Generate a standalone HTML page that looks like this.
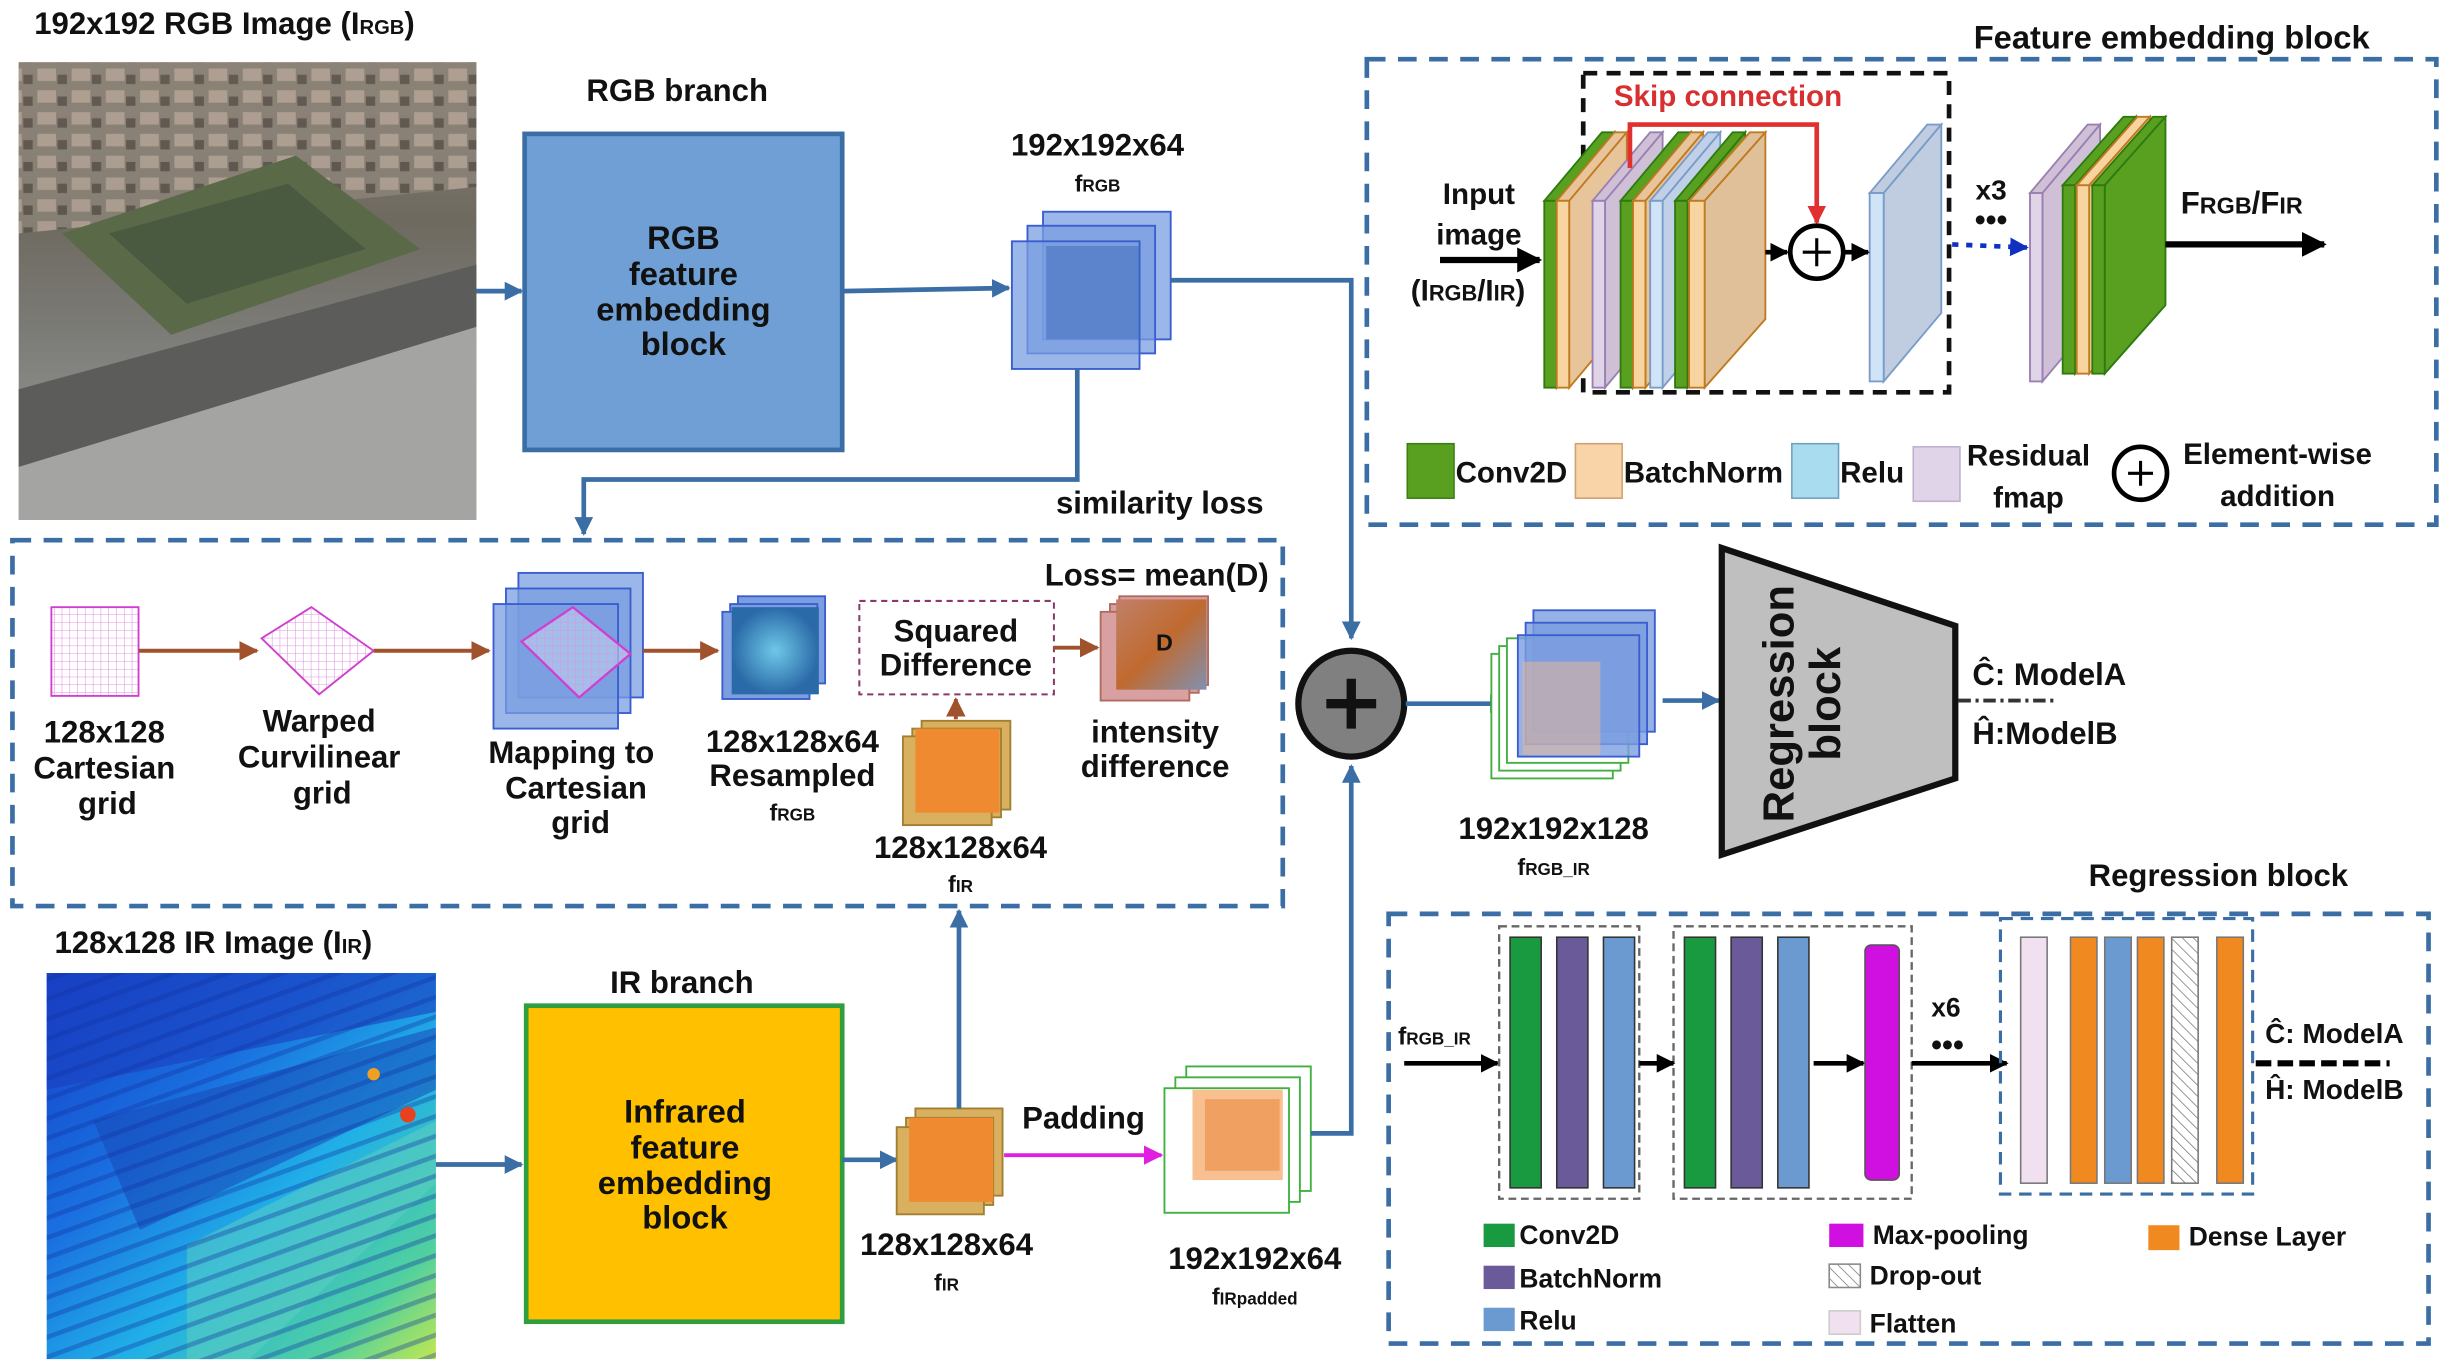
<!DOCTYPE html>
<html><head><meta charset="utf-8"><style>
html,body{margin:0;padding:0;background:#fff;}
svg{display:block;}
text{font-family:"Liberation Sans",sans-serif;font-weight:bold;fill:#111;}
</style></head><body>
<svg width="2441" height="1363" viewBox="0 0 1568 875.5" preserveAspectRatio="none" xmlns="http://www.w3.org/2000/svg">
<defs>
<marker id="ab" viewBox="0 0 10 10" refX="9" refY="5" markerWidth="4" markerHeight="4" orient="auto"><path d="M0,0L10,5L0,10z" fill="#3a6ea5"/></marker>
<marker id="ak" viewBox="0 0 10 10" refX="9" refY="5" markerWidth="4" markerHeight="4" orient="auto"><path d="M0,0L10,5L0,10z" fill="#000"/></marker>
<marker id="abr" viewBox="0 0 10 10" refX="9" refY="5" markerWidth="5" markerHeight="5" orient="auto"><path d="M0,0L10,5L0,10z" fill="#a0522d"/></marker>
<marker id="am" viewBox="0 0 10 10" refX="9" refY="5" markerWidth="5" markerHeight="5" orient="auto"><path d="M0,0L10,5L0,10z" fill="#e020e0"/></marker>
<marker id="ar" viewBox="0 0 10 10" refX="9" refY="5" markerWidth="4" markerHeight="4" orient="auto"><path d="M0,0L10,5L0,10z" fill="#e03030"/></marker>
<marker id="adb" viewBox="0 0 10 10" refX="9" refY="5" markerWidth="4" markerHeight="4" orient="auto"><path d="M0,0L10,5L0,10z" fill="#1030c0"/></marker>
<linearGradient id="city" x1="0" y1="0" x2="0" y2="1"><stop offset="0" stop-color="#8a7e72"/><stop offset="0.35" stop-color="#6e6a60"/><stop offset="0.6" stop-color="#7c7c78"/><stop offset="1" stop-color="#a0a09c"/></linearGradient>
<linearGradient id="ir" x1="0" y1="0" x2="1" y2="1"><stop offset="0" stop-color="#1440c8"/><stop offset="0.35" stop-color="#1a70e0"/><stop offset="0.6" stop-color="#20b0e8"/><stop offset="0.85" stop-color="#50d0a0"/><stop offset="1" stop-color="#c0e850"/></linearGradient>
<radialGradient id="teal"><stop offset="0" stop-color="#6ec8e8"/><stop offset="1" stop-color="#2a6aa8"/></radialGradient>
<linearGradient id="dg" x1="0" y1="0" x2="1" y2="1"><stop offset="0" stop-color="#c08068"/><stop offset="0.5" stop-color="#c06a30"/><stop offset="1" stop-color="#8090b0"/></linearGradient>
<pattern id="grid" width="5" height="5" patternUnits="userSpaceOnUse"><path d="M5,0V5H0" fill="none" stroke="#e090e0" stroke-width="0.7"/></pattern>
<pattern id="hatch" width="5" height="5" patternUnits="userSpaceOnUse" patternTransform="rotate(-45)"><line x1="0" y1="0" x2="0" y2="5" stroke="#777" stroke-width="1"/></pattern>
<pattern id="bld" width="22" height="14" patternUnits="userSpaceOnUse"><rect width="22" height="14" fill="#8c8478"/><rect x="2" y="2" width="12" height="8" fill="#b8a89a"/><rect x="15" y="6" width="6" height="6" fill="#5a524a"/></pattern>
<pattern id="irp" width="18" height="12" patternUnits="userSpaceOnUse" patternTransform="rotate(-20)"><rect width="18" height="12" fill="none"/><rect x="0" y="0" width="18" height="3" fill="#1030a0" opacity="0.35"/></pattern>
</defs>

<!-- RGB image -->
<text x="22" y="22" font-size="20">192x192 RGB Image (I<tspan font-size="13">RGB</tspan>)</text>
<rect x="12" y="40" width="294" height="294" fill="url(#city)"/>
<polygon points="12,40 306,40 306,120 12,150" fill="url(#bld)" opacity="0.8"/>
<polygon points="40,150 190,100 270,160 110,215" fill="#5a6a48"/>
<polygon points="70,150 185,118 235,160 120,195" fill="#4a5a40"/>
<polygon points="12,250 306,170 306,210 12,300" fill="#5c5c5a"/>
<polygon points="12,300 306,210 306,334 12,334" fill="#a4a4a2"/>
<line x1="306" y1="187" x2="335" y2="187" stroke="#3a6ea5" stroke-width="3" marker-end="url(#ab)"/>

<text x="435" y="65" font-size="20" text-anchor="middle">RGB branch</text>
<rect x="337" y="86" width="204" height="203" fill="#6f9fd4" stroke="#3a6ea5" stroke-width="3"/>
<text font-size="21" text-anchor="middle"><tspan x="439" y="160">RGB</tspan><tspan x="439" y="183">feature</tspan><tspan x="439" y="206">embedding</tspan><tspan x="439" y="228">block</tspan></text>
<line x1="541" y1="187" x2="648" y2="185" stroke="#3a6ea5" stroke-width="3" marker-end="url(#ab)"/>

<g stroke="#3a5ed0" stroke-width="1.2" fill="#7a9ee0" fill-opacity="0.75">
<rect x="670" y="136" width="82" height="82"/><rect x="660" y="145" width="82" height="82"/><rect x="650" y="155" width="82" height="82"/>
</g>
<rect x="672" y="158" width="60" height="60" fill="#3a6ab8" opacity="0.5"/>
<text x="705" y="100" font-size="20" text-anchor="middle">192x192x64</text>
<text x="705" y="123" font-size="15" text-anchor="middle">f<tspan font-size="11">RGB</tspan></text>

<polyline points="752,180 868,180 868,410" fill="none" stroke="#3a6ea5" stroke-width="3" marker-end="url(#ab)"/>
<polyline points="692,237 692,308 375,308 375,343" fill="none" stroke="#3a6ea5" stroke-width="3" marker-end="url(#ab)"/>
<text x="745" y="330" font-size="20" text-anchor="middle">similarity loss</text>

<rect x="8" y="347" width="816" height="235" fill="none" stroke="#3a6ea5" stroke-width="3" stroke-dasharray="12,8"/>
<text x="815" y="376" font-size="20" text-anchor="end">Loss= mean(D)</text>

<rect x="33" y="390" width="56" height="57" fill="url(#grid)" stroke="#d040d0" stroke-width="1.2"/>
<line x1="89" y1="418" x2="165" y2="418" stroke="#a0522d" stroke-width="2.5" marker-end="url(#abr)"/>
<polygon points="168,410 200,390 240,418 205,446" fill="url(#grid)" stroke="#d040d0" stroke-width="1.2"/>
<line x1="240" y1="418" x2="314" y2="418" stroke="#a0522d" stroke-width="2.5" marker-end="url(#abr)"/>
<text font-size="20" text-anchor="middle"><tspan x="67" y="477">128x128</tspan><tspan x="67" y="500">Cartesian</tspan><tspan x="69" y="523">grid</tspan></text>
<text font-size="20" text-anchor="middle"><tspan x="205" y="470">Warped</tspan><tspan x="205" y="493">Curvilinear</tspan><tspan x="207" y="516">grid</tspan></text>

<g stroke="#3a5ed0" stroke-width="1.2" fill="#7a9ee0" fill-opacity="0.75">
<rect x="333" y="368" width="80" height="80"/><rect x="325" y="378" width="80" height="80"/><rect x="317" y="388" width="80" height="80"/>
</g>
<polygon points="335,412 368,390 405,420 372,448" fill="#c0d4f0" opacity="0.6"/>
<polygon points="335,412 368,390 405,420 372,448" fill="url(#grid)" stroke="#d040d0" stroke-width="1.5"/>
<line x1="413" y1="418" x2="461" y2="418" stroke="#a0522d" stroke-width="2.5" marker-end="url(#abr)"/>
<text font-size="20" text-anchor="middle"><tspan x="367" y="490">Mapping to</tspan><tspan x="370" y="513">Cartesian</tspan><tspan x="373" y="535">grid</tspan></text>

<g stroke="#3a5ed0" stroke-width="1.2" fill="#7a9ee0">
<rect x="474" y="383" width="56" height="56"/><rect x="469" y="388" width="56" height="56"/><rect x="464" y="393" width="56" height="56"/>
</g>
<rect x="470" y="390" width="56" height="56" fill="url(#teal)"/>
<text font-size="20" text-anchor="middle"><tspan x="509" y="483">128x128x64</tspan><tspan x="509" y="505">Resampled</tspan></text>
<text x="509" y="527" font-size="15" text-anchor="middle">f<tspan font-size="11">RGB</tspan></text>

<rect x="552" y="386" width="125" height="60" fill="#fff" stroke="#8a3a6a" stroke-width="1.3" stroke-dasharray="4,3"/>
<text font-size="20" text-anchor="middle"><tspan x="614" y="412">Squared</tspan><tspan x="614" y="434">Difference</tspan></text>
<line x1="677" y1="416" x2="705" y2="416" stroke="#a0522d" stroke-width="2.5" marker-end="url(#abr)"/>
<g stroke="#b06a60" stroke-width="1.2" fill="#d8a0a0">
<rect x="719" y="383" width="57" height="57"/><rect x="713" y="388" width="57" height="57"/><rect x="707" y="393" width="57" height="57"/>
</g>
<rect x="717" y="385" width="58" height="58" fill="url(#dg)"/>
<text x="748" y="418" font-size="15" font-weight="normal" text-anchor="middle">D</text>
<text font-size="20" text-anchor="middle"><tspan x="742" y="477">intensity</tspan><tspan x="742" y="499">difference</tspan></text>

<line x1="614" y1="462" x2="614" y2="449" stroke="#a0522d" stroke-width="2.5" marker-end="url(#abr)"/>
<g stroke="#a08030" stroke-width="1.2" fill="#d8b060">
<rect x="592" y="463" width="57" height="57"/><rect x="586" y="468" width="57" height="57"/><rect x="580" y="473" width="57" height="57"/>
</g>
<rect x="588" y="468" width="54" height="54" fill="#f08a30"/>
<text x="617" y="551" font-size="20" text-anchor="middle">128x128x64</text>
<text x="617" y="573" font-size="15" text-anchor="middle">f<tspan font-size="11">IR</tspan></text>

<!-- IR -->
<text x="35" y="612" font-size="20">128x128 IR Image (I<tspan font-size="13">IR</tspan>)</text>
<rect x="30" y="625" width="250" height="248" fill="url(#ir)"/>
<polygon points="30,625 280,625 280,650 30,700" fill="#1a40c0" opacity="0.6"/>
<polygon points="60,720 280,660 280,700 90,790" fill="#1848b8" opacity="0.55"/>
<polygon points="120,800 280,720 280,760 160,873 120,873" fill="#60d0c0" opacity="0.5"/>
<rect x="30" y="625" width="250" height="248" fill="url(#irp)"/>
<circle cx="262" cy="716" r="5" fill="#e84020"/>
<circle cx="240" cy="690" r="4" fill="#f0a020"/>
<line x1="280" y1="748" x2="335" y2="748" stroke="#3a6ea5" stroke-width="3" marker-end="url(#ab)"/>
<text x="438" y="638" font-size="20" text-anchor="middle">IR branch</text>
<rect x="338" y="646" width="203" height="203" fill="#ffc000" stroke="#2e9e3e" stroke-width="3"/>
<text font-size="21" text-anchor="middle"><tspan x="440" y="721">Infrared</tspan><tspan x="440" y="744">feature</tspan><tspan x="440" y="767">embedding</tspan><tspan x="440" y="789">block</tspan></text>
<line x1="541" y1="745" x2="576" y2="745" stroke="#3a6ea5" stroke-width="3" marker-end="url(#ab)"/>
<g stroke="#a08030" stroke-width="1.2" fill="#d8b060">
<rect x="588" y="712" width="56" height="56"/><rect x="582" y="718" width="56" height="56"/><rect x="576" y="724" width="56" height="56"/>
</g>
<rect x="584" y="718" width="54" height="54" fill="#f08a30"/>
<line x1="616" y1="712" x2="616" y2="585" stroke="#3a6ea5" stroke-width="3" marker-end="url(#ab)"/>
<text x="608" y="806" font-size="20" text-anchor="middle">128x128x64</text>
<text x="608" y="829" font-size="15" text-anchor="middle">f<tspan font-size="11">IR</tspan></text>
<line x1="645" y1="742" x2="746" y2="742" stroke="#e020e0" stroke-width="2.5" marker-end="url(#am)"/>
<text x="696" y="725" font-size="20" text-anchor="middle">Padding</text>
<g stroke="#40b040" stroke-width="1.2" fill="#fff">
<rect x="762" y="685" width="80" height="80"/><rect x="755" y="692" width="80" height="80"/><rect x="748" y="699" width="80" height="80"/>
</g>
<rect x="766" y="700" width="58" height="58" fill="#f8c090"/>
<rect x="774" y="706" width="48" height="46" fill="#f0a060"/>
<text x="806" y="815" font-size="20" text-anchor="middle">192x192x64</text>
<text x="806" y="838" font-size="15" text-anchor="middle">f<tspan font-size="11">IRpadded</tspan></text>
<polyline points="842,728 868,728 868,492" fill="none" stroke="#3a6ea5" stroke-width="3" marker-end="url(#ab)"/>

<circle cx="868" cy="452" r="34" fill="#808080" stroke="#111" stroke-width="4"/>
<path d="M852,452H884M868,436V468" stroke="#111" stroke-width="6"/>
<line x1="903" y1="452" x2="968" y2="452" stroke="#3a6ea5" stroke-width="3" marker-end="url(#ab)"/>
<g stroke="#40b040" stroke-width="1.2" fill="#fff">
<rect x="958" y="420" width="78" height="80"/><rect x="963" y="415" width="78" height="80"/><rect x="968" y="410" width="78" height="80"/>
</g>
<g stroke="#3a5ed0" stroke-width="1.2" fill="#7a9ee0" fill-opacity="0.8">
<rect x="985" y="392" width="78" height="78"/><rect x="980" y="400" width="78" height="78"/><rect x="975" y="408" width="78" height="78"/>
</g>
<rect x="978" y="425" width="50" height="60" fill="#f0b890" opacity="0.5"/>
<line x1="1068" y1="450" x2="1104" y2="450" stroke="#3a6ea5" stroke-width="3" marker-end="url(#ab)"/>
<text x="998" y="539" font-size="20" text-anchor="middle">192x192x128</text>
<text x="998" y="562" font-size="15" text-anchor="middle">f<tspan font-size="11">RGB_IR</tspan></text>

<polygon points="1106,352 1256,402 1256,500 1106,549" fill="#bfbfbf" stroke="#111" stroke-width="4"/>
<text transform="translate(1152,452) rotate(-90)" font-size="28" text-anchor="middle"><tspan x="0" y="0">Regression</tspan><tspan x="0" y="30">block</tspan></text>
<text x="1267" y="440" font-size="20">Ĉ: ModelA</text>
<line x1="1258" y1="450" x2="1322" y2="450" stroke="#333" stroke-width="2.5" stroke-dasharray="8,3,2,3"/>
<text x="1267" y="478" font-size="20">Ĥ:ModelB</text>

<!-- Feature embedding block -->
<text x="1395" y="31" font-size="21" text-anchor="middle">Feature embedding block</text>
<rect x="878" y="38" width="687" height="299" fill="none" stroke="#3a6ea5" stroke-width="3" stroke-dasharray="12,8"/>
<rect x="1017" y="47" width="235" height="205" fill="none" stroke="#111" stroke-width="3" stroke-dasharray="9,6"/>
<text x="1110" y="68" font-size="19" text-anchor="middle" style="fill:#d83030">Skip connection</text>
<text font-size="19" font-weight="normal" text-anchor="middle"><tspan x="950" y="131">Input</tspan><tspan x="950" y="157">image</tspan></text>
<text x="943" y="193" font-size="19" font-weight="normal" text-anchor="middle">(I<tspan font-size="14">RGB</tspan>/I<tspan font-size="14">IR</tspan>)</text>
<line x1="925" y1="167" x2="989" y2="167" stroke="#000" stroke-width="4" marker-end="url(#ak)"/>

<g stroke-width="1.2">
<g fill="#5aa020" stroke="#2e7a10"><polygon points="992,129 1029,85 1037,85 1000,129"/><polygon points="1000,129 1037,85 1037,205 1000,249"/><rect x="992" y="129" width="8" height="120"/></g>
<g fill="#e8c49a" stroke="#c07a20"><polygon points="1000,129 1037,85 1045,85 1008,129"/><polygon points="1008,129 1045,85 1045,205 1008,249"/><rect x="1000" y="129" width="8" height="120" fill="#f8d4a0"/></g>
<g fill="#cfc0d8" stroke="#9a80b0"><polygon points="1023,129 1060,85 1068,85 1031,129"/><polygon points="1031,129 1068,85 1068,205 1031,249"/><rect x="1023" y="129" width="8" height="120" fill="#e0d4e8"/></g>
<g fill="#5aa020" stroke="#2e7a10"><polygon points="1041,129 1078,85 1086,85 1049,129"/><polygon points="1049,129 1086,85 1086,205 1049,249"/><rect x="1041" y="129" width="8" height="120"/></g>
<g fill="#e8c49a" stroke="#c07a20"><polygon points="1049,129 1086,85 1094,85 1057,129"/><polygon points="1057,129 1094,85 1094,205 1057,249"/><rect x="1049" y="129" width="8" height="120" fill="#f8d4a0"/></g>
<g fill="#c0d0e8" stroke="#7a9cc8"><polygon points="1060,129 1097,85 1105,85 1068,129"/><polygon points="1068,129 1105,85 1105,205 1068,249"/><rect x="1060" y="129" width="8" height="120" fill="#d0e4f8"/></g>
<g fill="#5aa020" stroke="#2e7a10"><polygon points="1076,129 1113,85 1121,85 1084,129"/><polygon points="1084,129 1121,85 1121,205 1084,249"/><rect x="1076" y="129" width="8" height="120"/></g>
<g fill="#e0c098" stroke="#c07a20"><polygon points="1085,129 1124,85 1134,85 1095,129"/><polygon points="1095,129 1134,85 1134,205 1095,249"/><rect x="1085" y="129" width="10" height="120" fill="#f8d4a0"/></g>
<g fill="#c0cce0" stroke="#7a9cc8"><polygon points="1201,124 1238,80 1247,80 1210,124"/><polygon points="1210,124 1247,80 1247,201 1210,245"/><rect x="1201" y="124" width="9" height="121" fill="#d0e4f8"/></g>
<g fill="#cfc0d8" stroke="#9a80b0"><polygon points="1304,124 1341,80 1349,80 1312,124"/><polygon points="1312,124 1349,80 1349,201 1312,245"/><rect x="1304" y="124" width="8" height="121" fill="#e0d4e8"/></g>
<g fill="#5aa020" stroke="#2e7a10"><polygon points="1325,119 1364,75 1372,75 1333,119"/><polygon points="1333,119 1372,75 1372,196 1333,240"/><rect x="1325" y="119" width="8" height="121"/></g>
<g fill="#f8d4a0" stroke="#c07a20"><polygon points="1334,119 1373,75 1381,75 1342,119"/><polygon points="1342,119 1381,75 1381,196 1342,240"/><rect x="1334" y="119" width="8" height="121"/></g>
<g fill="#5aa020" stroke="#2e7a10"><polygon points="1344,119 1383,75 1391,75 1352,119"/><polygon points="1352,119 1391,75 1391,196 1352,240"/><rect x="1344" y="119" width="8" height="121"/></g>
</g>
<polyline points="1047,108 1047,80 1167,80 1167,143" fill="none" stroke="#e03030" stroke-width="3" marker-end="url(#ar)"/>
<line x1="1134" y1="162" x2="1148" y2="162" stroke="#000" stroke-width="3" marker-end="url(#ak)"/>
<circle cx="1167" cy="162" r="17" fill="#fff" stroke="#000" stroke-width="3"/>
<path d="M1158,162H1176M1167,153V171" stroke="#000" stroke-width="2"/>
<line x1="1185" y1="162" x2="1200" y2="162" stroke="#000" stroke-width="3" marker-end="url(#ak)"/>
<line x1="1254" y1="157" x2="1302" y2="159" stroke="#1030c0" stroke-width="3" stroke-dasharray="4,5" marker-end="url(#adb)"/>
<text x="1279" y="128" font-size="18" font-weight="normal" text-anchor="middle">x3</text>
<text x="1279" y="148" font-size="20" text-anchor="middle">•••</text>
<line x1="1391" y1="157" x2="1493" y2="157" stroke="#000" stroke-width="4" marker-end="url(#ak)"/>
<text x="1440" y="137" font-size="20" font-weight="normal" text-anchor="middle">F<tspan font-size="15">RGB</tspan>/F<tspan font-size="15">IR</tspan></text>

<rect x="904" y="285" width="30" height="35" fill="#5aa020" stroke="#3a8010"/>
<text x="935" y="310" font-size="19" font-weight="normal">Conv2D</text>
<rect x="1012" y="285" width="30" height="35" fill="#f8d4a8" stroke="#d0a070"/>
<text x="1043" y="310" font-size="19" font-weight="normal">BatchNorm</text>
<rect x="1151" y="285" width="30" height="35" fill="#aadcf0" stroke="#70a0c0"/>
<text x="1182" y="310" font-size="19" font-weight="normal">Relu</text>
<rect x="1229" y="287" width="30" height="35" fill="#e0d4e8" stroke="#c0b0d0"/>
<text font-size="19" font-weight="normal" text-anchor="middle"><tspan x="1303" y="299">Residual</tspan><tspan x="1303" y="326">fmap</tspan></text>
<circle cx="1375" cy="304" r="17" fill="#fff" stroke="#000" stroke-width="3"/>
<path d="M1367,304H1383M1375,296V312" stroke="#000" stroke-width="2"/>
<text font-size="19" font-weight="normal" text-anchor="middle"><tspan x="1463" y="298">Element-wise</tspan><tspan x="1463" y="325">addition</tspan></text>

<!-- Regression block detail -->
<text x="1425" y="569" font-size="20" text-anchor="middle">Regression block</text>
<rect x="892" y="587" width="668" height="276" fill="none" stroke="#3a6ea5" stroke-width="3" stroke-dasharray="12,8"/>
<text x="898" y="671" font-size="16">f<tspan font-size="11">RGB_IR</tspan></text>
<line x1="902" y1="683" x2="962" y2="683" stroke="#000" stroke-width="3" marker-end="url(#ak)"/>
<rect x="963" y="595" width="90" height="175" fill="none" stroke="#666" stroke-width="1.5" stroke-dasharray="5,3"/>
<rect x="1075" y="595" width="153" height="175" fill="none" stroke="#666" stroke-width="1.5" stroke-dasharray="5,3"/>
<rect x="970" y="602" width="20" height="161" fill="#1a9a40" stroke="#333"/>
<rect x="1000" y="602" width="20" height="161" fill="#6a5a9a" stroke="#333"/>
<rect x="1030" y="602" width="20" height="161" fill="#6a9ad0" stroke="#333"/>
<line x1="1053" y1="683" x2="1075" y2="683" stroke="#000" stroke-width="3" marker-end="url(#ak)"/>
<rect x="1082" y="602" width="20" height="161" fill="#1a9a40" stroke="#333"/>
<rect x="1112" y="602" width="20" height="161" fill="#6a5a9a" stroke="#333"/>
<rect x="1142" y="602" width="20" height="161" fill="#6a9ad0" stroke="#333"/>
<line x1="1165" y1="683" x2="1197" y2="683" stroke="#000" stroke-width="3" marker-end="url(#ak)"/>
<rect x="1198" y="607" width="22" height="151" rx="4" fill="#d010e0" stroke="#555"/>
<text x="1250" y="653" font-size="17" text-anchor="middle">x6</text>
<text x="1251" y="678" font-size="20" text-anchor="middle">•••</text>
<line x1="1228" y1="683" x2="1289" y2="683" stroke="#000" stroke-width="3" marker-end="url(#ak)"/>
<rect x="1285" y="590" width="162" height="177" fill="none" stroke="#3a6ea5" stroke-width="2" stroke-dasharray="8,5"/>
<rect x="1298" y="602" width="17" height="158" fill="#f0e0f0" stroke="#777"/>
<rect x="1330" y="602" width="17" height="158" fill="#f08a20" stroke="#777"/>
<rect x="1352" y="602" width="17" height="158" fill="#6a9ad0" stroke="#777"/>
<rect x="1373" y="602" width="17" height="158" fill="#f08a20" stroke="#777"/>
<rect x="1395" y="602" width="17" height="158" fill="url(#hatch)" stroke="#777"/>
<rect x="1424" y="602" width="17" height="158" fill="#f08a20" stroke="#777"/>
<line x1="1449" y1="683" x2="1535" y2="683" stroke="#000" stroke-width="4" stroke-dasharray="10,4"/>
<text x="1455" y="670" font-size="18">Ĉ: ModelA</text>
<text x="1455" y="706" font-size="18">Ĥ: ModelB</text>

<rect x="953" y="786" width="20" height="15" fill="#1a9a40"/>
<text x="976" y="799" font-size="17">Conv2D</text>
<rect x="953" y="813" width="20" height="15" fill="#6a5a9a"/>
<text x="976" y="827" font-size="17">BatchNorm</text>
<rect x="953" y="840" width="20" height="15" fill="#6a9ad0"/>
<text x="976" y="854" font-size="17">Relu</text>
<rect x="1175" y="786" width="22" height="15" fill="#d010e0"/>
<text x="1203" y="799" font-size="17">Max-pooling</text>
<rect x="1175" y="812" width="20" height="15" fill="url(#hatch)" stroke="#888"/>
<text x="1201" y="825" font-size="17">Drop-out</text>
<rect x="1175" y="842" width="20" height="15" fill="#f0e0f0" stroke="#ccc"/>
<text x="1201" y="856" font-size="17">Flatten</text>
<rect x="1380" y="787" width="20" height="16" fill="#f08a20"/>
<text x="1406" y="800" font-size="17">Dense Layer</text>
</svg>
</body></html>
